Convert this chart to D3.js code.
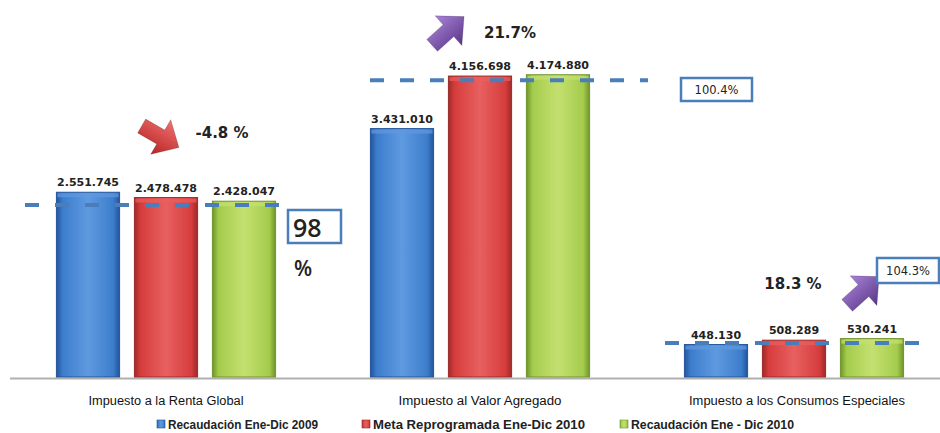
<!DOCTYPE html>
<html>
<head>
<meta charset="utf-8">
<script src="https://cdn.jsdelivr.net/npm/d3@7"></script>
<style>
  body { margin: 0; background: #fff; }
  svg { display: block; }
</style>
</head>
<body>
<div id="chart"></div>
<script>
var categories = ["Impuesto a la Renta Global", "Impuesto al Valor Agregado", "Impuesto a los Consumos Especiales"];
var seriesNames = ["Recaudación  Ene-Dic 2009", "Meta Reprogramada  Ene-Dic 2010", "Recaudación  Ene - Dic 2010"];
var rec2009 = [2551745, 3431010, 448130];
var meta2010 = [2478478, 4156698, 508289];
var rec2010 = [2428047, 4174880, 530241];
var valueLabels = [["2.551.745", "2.478.478", "2.428.047"], ["3.431.010", "4.156.698", "4.174.880"], ["448.130", "508.289", "530.241"]];
var dashLevels = [2376000, 4100000, 470000];
var growthLabels = ["-4.8 %", "21.7%", "18.3 %"];
var complianceLabels = ["98", "100.4%", "104.3%"];

var width = 940, height = 433;
var svg = d3.select("#chart").append("svg").attr("width", width).attr("height", height);
var defs = svg.append("defs");

var colors = [
  {light: "#5f9ae0", mid: "#3c7dcc", dark: "#23549a"},
  {light: "#e86060", mid: "#d63d3d", dark: "#9e2a2a"},
  {light: "#c4e070", mid: "#a4cc4c", dark: "#6f942c"}
];
colors.forEach(function(c, i) {
  var g = defs.append("linearGradient").attr("id", "bar" + i).attr("x1", 0).attr("x2", 1).attr("y1", 0).attr("y2", 0);
  g.append("stop").attr("offset", "0%").attr("stop-color", c.dark);
  g.append("stop").attr("offset", "10%").attr("stop-color", c.mid);
  g.append("stop").attr("offset", "50%").attr("stop-color", c.light);
  g.append("stop").attr("offset", "90%").attr("stop-color", c.mid);
  g.append("stop").attr("offset", "100%").attr("stop-color", c.dark);
});
function arrowGrad(id, a, b) {
  var g = defs.append("linearGradient").attr("id", id).attr("x1", 0).attr("x2", 0).attr("y1", 0).attr("y2", 1);
  g.append("stop").attr("offset", "0%").attr("stop-color", a);
  g.append("stop").attr("offset", "100%").attr("stop-color", b);
}
arrowGrad("arrowRed", "#f07070", "#b82424");
arrowGrad("arrowPurple", "#a883d8", "#5a3688");

var x0 = d3.scaleBand().domain(categories).range([9, 951]);
var x1 = d3.scaleBand().domain(seriesNames).range([-124.4, 124.4]).padding(0.19);
var y = d3.scaleLinear().domain([0, 5000000]).range([377, 15]);

var table = categories.map(function(c, i) {
  return {cat: c, i: i, values: [rec2009[i], meta2010[i], rec2010[i]]};
});

// baseline
svg.append("line").attr("x1", 10).attr("x2", 940).attr("y1", 378.5).attr("y2", 378.5)
  .attr("stroke", "#b0b0b0").attr("stroke-width", 2);

var groups = svg.selectAll(".grp").data(table).enter().append("g")
  .attr("class", "grp")
  .attr("transform", function(d) { return "translate(" + (x0(d.cat) + x0.bandwidth() / 2) + ",0)"; });

groups.selectAll("rect.bar").data(function(d) {
  return d.values.map(function(v, j) { return {v: v, j: j, i: d.i}; });
}).enter().append("rect")
  .attr("class", "bar")
  .attr("x", function(d) { return x1(seriesNames[d.j]); })
  .attr("y", function(d) { return y(d.v); })
  .attr("width", x1.bandwidth())
  .attr("height", function(d) { return y(0) - y(d.v); })
  .attr("fill", function(d) { return "url(#bar" + d.j + ")"; })
  .attr("stroke", function(d) { return colors[d.j].dark; })
  .attr("stroke-width", 1);

// top bevel
groups.selectAll("rect.bevel").data(function(d) {
  return d.values.map(function(v, j) { return {v: v, j: j}; });
}).enter().append("rect")
  .attr("x", function(d) { return x1(seriesNames[d.j]) + 1; })
  .attr("y", function(d) { return y(d.v) + 1; })
  .attr("width", x1.bandwidth() - 2)
  .attr("height", 4)
  .attr("fill", function(d) { return colors[d.j].light; })
  .attr("opacity", 0.7);

groups.selectAll("text.val").data(function(d) {
  return d.values.map(function(v, j) { return {v: v, j: j, i: d.i}; });
}).enter().append("text")
  .attr("x", function(d) { return x1(seriesNames[d.j]) + x1.bandwidth() / 2; })
  .attr("y", function(d) { return y(d.v) - 6; })
  .attr("text-anchor", "middle")
  .attr("font-family", "DejaVu Sans, Verdana, sans-serif")
  .attr("font-size", 11)
  .attr("font-weight", "bold")
  .attr("fill", "#222")
  .text(function(d) { return valueLabels[d.i][d.j]; });

// dashed reference lines
var dashSpan = [[-141, 119], [-110, 168], [-129, 134]];
groups.append("line")
  .attr("x1", function(d) { return dashSpan[d.i][0]; })
  .attr("x2", function(d) { return dashSpan[d.i][1]; })
  .attr("y1", function(d) { return y(dashLevels[d.i]); })
  .attr("y2", function(d) { return y(dashLevels[d.i]); })
  .attr("stroke", "#4a7ebb")
  .attr("stroke-width", 4)
  .attr("stroke-dasharray", "14,16");

// category labels
var catWidths = [155, 163, 216];
svg.selectAll(".cat").data(categories).enter().append("text")
  .attr("x", function(d, i) { return x0(d) + x0.bandwidth() / 2 + (i == 2 ? 3 : 0); })
  .attr("y", 405)
  .attr("text-anchor", "middle")
  .attr("font-family", "Liberation Sans, Arial, sans-serif")
  .attr("font-size", 12)
  .attr("textLength", function(d, i) { return catWidths[i]; })
  .attr("lengthAdjust", "spacingAndGlyphs")
  .attr("fill", "#111")
  .text(function(d) { return d; });

// arrows
var arrowPath = "M-20,-8 L2,-8 L2,-20 L23,0 L2,20 L2,8 L-20,8 Z";
var arrows = [
  {x: 159, y: 136, rot: 30, fill: "url(#arrowRed)"},
  {x: 447, y: 32, rot: -42, fill: "url(#arrowPurple)"},
  {x: 862, y: 292, rot: -42, fill: "url(#arrowPurple)"}
];
svg.selectAll(".arrow").data(arrows).enter().append("path")
  .attr("d", arrowPath)
  .attr("transform", function(d) { return "translate(" + d.x + "," + d.y + ") rotate(" + d.rot + ")"; })
  .attr("fill", function(d) { return d.fill; })
  .attr("stroke", "#00000033")
  .attr("stroke-width", 0.8);

var growthPos = [[222, 138], [510, 38], [793, 289]];
svg.selectAll(".growth").data(growthLabels).enter().append("text")
  .attr("x", function(d, i) { return growthPos[i][0]; })
  .attr("y", function(d, i) { return growthPos[i][1]; })
  .attr("text-anchor", "middle")
  .attr("font-family", "DejaVu Sans, Verdana, sans-serif")
  .attr("font-size", 15)
  .attr("font-weight", "bold")
  .attr("fill", "#222")
  .text(function(d) { return d; });

// compliance boxes
var boxes = [
  {x: 288, y: 210, w: 53, h: 33, size: 25, tx: 293, ty: 237, anchor: "start", big: true},
  {x: 681, y: 78, w: 71, h: 23, size: 11.5, tx: 716.5, ty: 94, anchor: "middle", big: false},
  {x: 877, y: 258, w: 62, h: 25, size: 11.5, tx: 908, ty: 275, anchor: "middle", big: false}
];
svg.selectAll(".box").data(boxes).enter().append("rect")
  .attr("x", function(d) { return d.x; })
  .attr("y", function(d) { return d.y; })
  .attr("width", function(d) { return d.w; })
  .attr("height", function(d) { return d.h; })
  .attr("fill", "#fff")
  .attr("stroke", "#4a7ebb")
  .attr("stroke-width", 2.5);
svg.selectAll(".boxtxt").data(boxes).enter().append("text")
  .attr("x", function(d) { return d.tx; })
  .attr("y", function(d) { return d.ty; })
  .attr("text-anchor", function(d) { return d.anchor; })
  .attr("font-family", function(d) { return d.big ? "Open Sans, Liberation Sans, sans-serif" : "DejaVu Sans, Verdana, sans-serif"; })
  .attr("font-size", function(d) { return d.size; })
  .attr("font-weight", function(d) { return d.big ? 600 : "normal"; })
  .attr("fill", "#222")
  .text(function(d, i) { return complianceLabels[i]; });
svg.append("text")
  .attr("x", 294).attr("y", 276)
  .attr("font-family", "Open Sans, Liberation Sans, sans-serif")
  .attr("font-size", 21)
  .attr("font-weight", 600)
  .attr("fill", "#222")
  .text("%");

// legend
var legendX = [157, 362, 620];
var legendWidths = [150, 212, 163];
var legend = svg.selectAll(".leg").data(seriesNames).enter().append("g")
  .attr("transform", function(d, i) { return "translate(" + legendX[i] + ",420)"; });
legend.append("rect")
  .attr("width", 8).attr("height", 8)
  .attr("fill", function(d, i) { return "url(#bar" + i + ")"; })
  .attr("stroke", function(d, i) { return colors[i].dark; })
  .attr("stroke-width", 0.6);
legend.append("text")
  .attr("x", 11)
  .attr("y", 9)
  .attr("font-family", "Liberation Sans, Arial, sans-serif")
  .attr("font-size", 12)
  .attr("font-weight", "bold")
  .attr("textLength", function(d, i) { return legendWidths[i]; })
  .attr("lengthAdjust", "spacingAndGlyphs")
  .attr("fill", "#222")
  .text(function(d) { return d; });
</script>
</body>
</html>
